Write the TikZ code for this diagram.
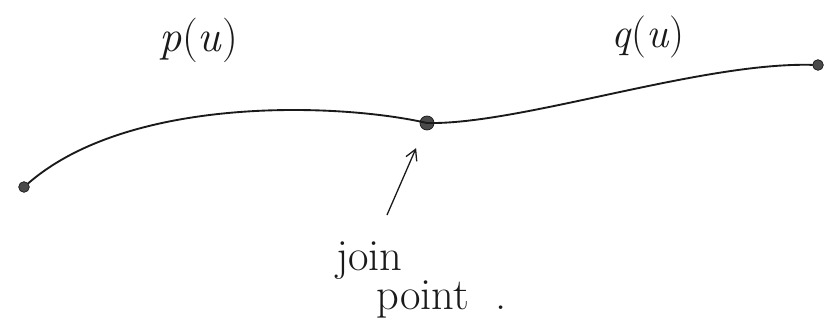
\documentclass[tikz,border=0pt]{standalone}
\usepackage{tikz}
\usetikzlibrary{positioning, calc, arrows.meta}
\usepackage{xcolor}
\definecolor{ink}{HTML}{1a1a1a}
\definecolor{dotink}{HTML}{4a4a4a}

\begin{document}
\begin{tikzpicture}[
    x=0.03cm, y=-0.03cm,
    endpt/.style={circle, fill=dotink, draw=ink, line width=0.6pt, inner sep=0pt, minimum size=0.32cm},
    joinpt/.style={endpt, minimum size=0.42cm},
    curve/.style={draw=ink, line width=1.6pt, line cap=round},
    label/.style={text=ink, font=\fontsize{38}{31}\selectfont},
    pointer/.style={draw=ink, line width=1.1pt, -{Straight Barb[length=9pt, width=10pt]}},
]
\useasboundingbox (0,0) rectangle (826,331);

% Points on the curve
\node[endpt] (start) at (24, 187) {};
\node[joinpt] (join) at (427, 123) {};
\node[endpt] (end) at (818, 65) {};

% The two segments
\draw[curve] (start) .. controls (130, 95) and (340, 103) .. (join.center);
\draw[curve] (join.center) .. controls (520, 125) and (700, 62) .. (end);

% Segment labels
\node[label] (plab) at (199, 40) {\textit{p}(\textit{u})};
\node[label, font=\fontsize{36}{31}\selectfont] (qlab) at (648, 37) {\textit{q}(\textit{u})};

% Join point annotation
\node[label, align=left, anchor=west] (jlab) at (332, 280) {join\\\hspace{0.9em}point\ \ .};
\coordinate (tail) at (387, 215);
\draw[pointer, shorten >=0.6cm] (tail) -- (join);

\end{tikzpicture}
\end{document}
